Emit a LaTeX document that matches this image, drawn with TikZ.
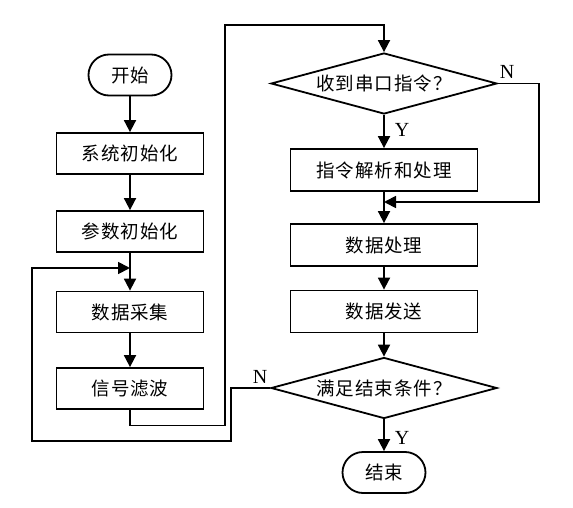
\documentclass[tikz,border=0pt]{standalone}
\usepackage{fontspec}
\newfontfamily\cjk[LetterSpace=5]{Noto Sans CJK SC}
\newfontfamily\latn{Liberation Serif}
\usepackage{tikz}
\usetikzlibrary{arrows.meta,shapes.geometric}

\begin{document}
\begin{tikzpicture}[x=1pt,y=-1pt,line width=1.8pt,
    stepbox/.style={draw,minimum width=147pt,minimum height=41pt,inner sep=0pt,font=\cjk\fontsize{18.5pt}{20pt}\selectfont},
    term/.style={draw,rounded corners=20.5pt,minimum width=83pt,minimum height=41pt,inner sep=0pt,font=\cjk\fontsize{18.5pt}{20pt}\selectfont},
    decide/.style={draw,diamond,aspect=3.7,minimum width=226pt,minimum height=61pt,inner sep=0pt,font=\cjk\fontsize{18.5pt}{20pt}\selectfont},
    yn/.style={font=\latn\fontsize{20pt}{22pt}\selectfont},
    arr/.style={-{Triangle[length=12pt,width=12pt]}}]
    \useasboundingbox (0,0) rectangle (573,508);

    % Left column
    \node[term] (start) at (130,75) {开始};
    \node[stepbox] (sysinit) at (130,153.5) {系统初始化};
    \node[stepbox] (parinit) at (130,231.5) {参数初始化};
    \coordinate (m1) at (130,268);
    \node[stepbox] (acq) at (130,312) {数据采集};
    \node[stepbox] (filt) at (130,388.5) {信号滤波};

    % Right column
    \node[decide] (cmd) at (384,83.5) {收到串口指令？};
    \node[stepbox,minimum width=187pt,minimum height=42pt] (parse) at (384,170) {指令解析和处理};
    \coordinate (m2) at (384,202);
    \node[stepbox,minimum width=187pt,minimum height=42pt] (proc) at (384,245) {数据处理};
    \node[stepbox,minimum width=187pt,minimum height=42pt] (send) at (384,311.5) {数据发送};
    \node[decide] (fin) at (384,388) {满足结束条件？};
    \node[term] (stop) at (384,472.5) {结束};

    % Straight arrows
    \draw[arr] (start) -- (sysinit);
    \draw[arr] (sysinit) -- (parinit);
    \draw (parinit) -- (m1);
    \draw[arr] (m1) -- (acq);
    \draw[arr] (acq) -- (filt);
    \draw[arr] (cmd) -- (parse);
    \draw (parse) -- (m2);
    \draw[arr] (m2) -- (proc);
    \draw[arr] (proc) -- (send);
    \draw[arr] (send) -- (fin);
    \draw[arr] (fin) -- (stop);

    % Loops
    \draw[arr] (filt.south) -- ++(0,15.5) -- ++(95,0) |- ([yshift=27pt]cmd.north) -- (cmd.north);
    \draw[arr] (cmd.east) -- ++(41,0) |- (m2);
    \draw[arr] (fin.west) -- ++(-39,0) -- ++(0,53) -| (32,268) -- (m1);

    % Labels
    \node[yn] (n1) at (507,72) {N};
    \node[yn] (y1) at (402,130) {Y};
    \node[yn] (n2) at (260,377) {N};
    \node[yn] (y2) at (402,438) {Y};
\end{tikzpicture}
\end{document}
